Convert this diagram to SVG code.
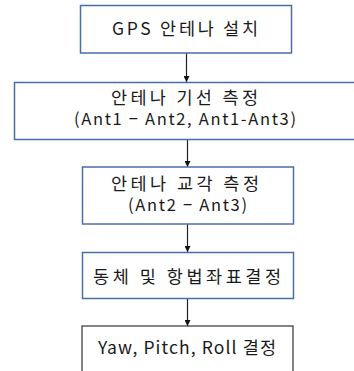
<svg xmlns="http://www.w3.org/2000/svg" width="354" height="371" viewBox="0 0 354 371">
<defs>
<style>
.box{fill:#fff;stroke:#4a6fa5;stroke-width:1.5}
.box5{fill:#fff;stroke:#333;stroke-width:1.2}
text{font-family:"Malgun Gothic","Noto Sans CJK KR",sans-serif;font-size:17.5px;fill:#1a1a1a;text-anchor:middle}
text.lat{font-size:16.5px}
.conn{stroke:#222;stroke-width:1.2;fill:none;marker-end:url(#arr)}
</style>
<marker id="arr" viewBox="0 0 10 10" refX="10" refY="5" markerWidth="6" markerHeight="6" markerUnits="userSpaceOnUse" orient="auto">
<path d="M0,0L10,5L0,10z" fill="#111"/>
</marker>
</defs>
<g id="connectors">
<line class="conn" x1="186.5" y1="53" x2="186.5" y2="82"/>
<line class="conn" x1="187.5" y1="139.5" x2="187.5" y2="167"/>
<line class="conn" x1="187.5" y1="224" x2="187.5" y2="252"/>
<line class="conn" x1="187.5" y1="298" x2="187.5" y2="326"/>
</g>
<g id="n1">
<rect class="box" x="80.5" y="5.5" width="211" height="47.5"/>
<text x="185" y="34.5" textLength="146" lengthAdjust="spacing">GPS 안테나 설치</text>
</g>
<g id="n2">
<rect class="box" x="14.5" y="82.5" width="345" height="57"/>
<text x="184.5" y="104" textLength="147" lengthAdjust="spacing">안테나 기선 측정</text>
<text class="lat" x="185" y="124.5" textLength="222" lengthAdjust="spacing">(Ant1 − Ant2, Ant1-Ant3)</text>
</g>
<g id="n3">
<rect class="box" x="82.5" y="167" width="211" height="57"/>
<text x="185" y="189.5" textLength="148" lengthAdjust="spacing">안테나 교각 측정</text>
<text class="lat" x="187.5" y="210.5" textLength="119" lengthAdjust="spacing">(Ant2 − Ant3)</text>
</g>
<g id="n4">
<rect class="box" x="82.5" y="252.5" width="211" height="46"/>
<text x="187" y="282.5" textLength="188" lengthAdjust="spacing">동체 및 항법좌표결정</text>
</g>
<g id="n5">
<rect class="box5" x="82" y="326" width="211" height="60"/>
<text x="187" y="354.3" textLength="178" lengthAdjust="spacing">Yaw, Pitch, Roll 결정</text>
</g>
</svg>
